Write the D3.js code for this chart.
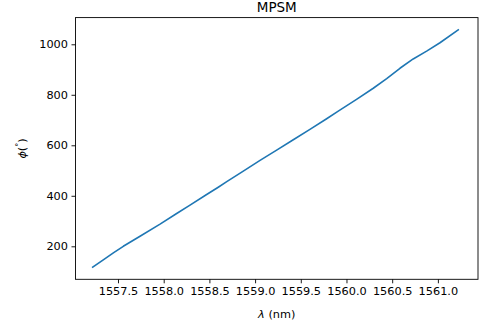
<!DOCTYPE html>
<html>
<head>
<meta charset="utf-8">
<script src="https://cdn.jsdelivr.net/npm/d3@7"></script>
<style>
  body { margin: 0; background: #fff; }
  text { font-family: "DejaVu Sans", sans-serif; fill: #000; }
</style>
</head>
<body>
<svg id="chart" width="479" height="326"></svg>
<script>
// values
const wavelength = [1557.223, 1557.339, 1557.449, 1557.558, 1557.741, 1557.96, 1558.142, 1558.288,
  1558.47, 1558.597, 1558.69, 1558.871, 1559.054, 1559.236, 1559.418, 1559.60, 1559.783,
  1559.91, 1560.11, 1560.293, 1560.44, 1560.585, 1560.73, 1560.877, 1561.023, 1561.223];
const phase = [117, 146, 174, 200, 240, 288, 330, 363,
  405, 434, 456, 498, 540, 581, 622, 663, 705,
  735, 782, 826, 864, 905, 942, 973, 1006, 1057];
const xTicks = [1557.5, 1558.0, 1558.5, 1559.0, 1559.5, 1560.0, 1560.5, 1561.0];
const yTicks = [200, 400, 600, 800, 1000];

const margin = { top: 17.6, right: 1, bottom: 46.7, left: 75.5 };
const width = 479;
const height = 326;
const fs = 11.3;

const svg = d3.select('#chart');

const x = d3.scaleLinear()
  .domain([1557.035, 1561.439])
  .range([margin.left, width - margin.right]);

const y = d3.scaleLinear()
  .domain([69.3, 1105.7])
  .range([height - margin.bottom, margin.top]);

const data = wavelength.map((w, i) => ({ w, p: phase[i] }));

const line = d3.line()
  .x(d => x(d.w))
  .y(d => y(d.p));

svg.append('path')
  .datum(data)
  .attr('fill', 'none')
  .attr('stroke', '#1f77b4')
  .attr('stroke-width', 1.6)
  .attr('stroke-linejoin', 'round')
  .attr('stroke-linecap', 'square')
  .attr('d', line);

// axes
const xAxis = svg.append('g')
  .attr('transform', `translate(0,${height - margin.bottom})`)
  .call(d3.axisBottom(x).tickValues(xTicks).tickFormat(d3.format('.1f'))
    .tickSizeInner(4).tickSizeOuter(0).tickPadding(3.5));

const yAxis = svg.append('g')
  .attr('transform', `translate(${margin.left},0)`)
  .call(d3.axisLeft(y).tickValues(yTicks).tickFormat(d3.format('d'))
    .tickSizeInner(4).tickSizeOuter(0).tickPadding(3.5));

[xAxis, yAxis].forEach(a => {
  a.select('.domain').remove();
  a.selectAll('line').attr('stroke', '#000').attr('stroke-width', 0.9);
  a.selectAll('text').style('font-size', fs + 'px').attr('fill', '#222');
});

// frame
svg.append('rect')
  .attr('x', margin.left)
  .attr('y', margin.top)
  .attr('width', width - margin.right - margin.left)
  .attr('height', height - margin.bottom - margin.top)
  .attr('fill', 'none')
  .attr('stroke', '#000')
  .attr('stroke-width', 0.9);

// title
svg.append('text')
  .attr('x', (margin.left + width - margin.right) / 2)
  .attr('y', 11.7)
  .attr('text-anchor', 'middle')
  .attr('fill', '#222')
  .style('font-size', '13.5px')
  .text('MPSM');

// x label
const xl = svg.append('text')
  .attr('x', (margin.left + width - margin.right) / 2)
  .attr('y', 317.5)
  .attr('text-anchor', 'middle')
  .attr('fill', '#222')
  .style('font-size', fs + 'px');
xl.append('tspan').style('font-style', 'italic').text('λ');
xl.append('tspan').text(' (nm)');

// y label
const yl = svg.append('text')
  .attr('transform', `translate(26,${(margin.top + height - margin.bottom) / 2}) rotate(-90)`)
  .attr('text-anchor', 'middle')
  .attr('fill', '#222')
  .style('font-size', fs + 'px');
yl.append('tspan').style('font-style', 'italic').text('ϕ');
yl.append('tspan').text('(');
yl.append('tspan').attr('dy', -4).style('font-size', '8px').text('°');
yl.append('tspan').attr('dy', 4).text(')');
</script>
</body>
</html>
